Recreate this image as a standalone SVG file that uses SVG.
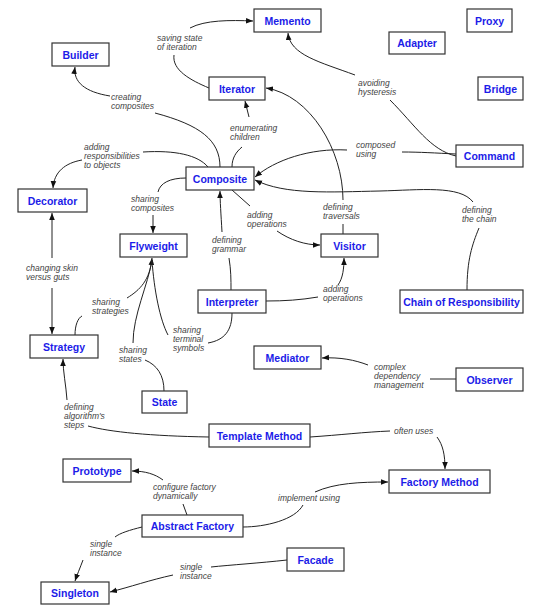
<svg xmlns="http://www.w3.org/2000/svg" width="550" height="608" viewBox="0 0 550 608">
<style>
.n rect{fill:#fff;stroke:#333;stroke-width:1.2}
.n text{font-family:"Liberation Sans",Arial,sans-serif;font-weight:bold;font-size:10.5px;fill:#1c1ce8;text-anchor:middle}
.c path{fill:none;stroke:#222;stroke-width:1}
.l{font-family:"Liberation Sans",Arial,sans-serif;font-style:italic;font-size:8.5px;fill:#444}
</style>
<defs>
<marker id="a" viewBox="0 0 10 10" refX="10" refY="5" markerWidth="7" markerHeight="7" orient="auto" markerUnits="userSpaceOnUse"><path d="M0,1 L10,5 L0,9 z" fill="#111"/></marker>
</defs>
<rect width="550" height="608" fill="#fff"/>
<g class="c" id="connectors">
<path d="M209,88 C190,80 172,70 174,55"/>
<path d="M190,28 C205,20 230,20 253,21" marker-end="url(#a)"/>
<path d="M110,96 C85,92 73,82 75,67" marker-end="url(#a)"/>
<path d="M155,113 C200,125 220,140 220,167"/>
<path d="M232,167 C232,158 236,152 242,147"/>
<path d="M249,117 L245,101" marker-end="url(#a)"/>
<path d="M355,75 C320,62 290,55 288,33" marker-end="url(#a)"/>
<path d="M390,100 C415,125 430,150 456,156"/>
<path d="M456,154 C435,153 420,152 402,152"/>
<path d="M347,150 C310,148 275,160 255,177" marker-end="url(#a)"/>
<path d="M467,290 C467,260 472,245 479,228"/>
<path d="M473,202 C460,185 420,190 380,191 C330,192 285,195 255,180" marker-end="url(#a)"/>
<path d="M343,234 L343,224"/>
<path d="M343,200 C343,150 310,95 266,88" marker-end="url(#a)"/>
<path d="M143,152 C175,150 198,155 208,167"/>
<path d="M82,160 C65,163 54,172 53,188" marker-end="url(#a)"/>
<path d="M186,178 C170,178 160,183 158,192"/>
<path d="M153,215 L153,233" marker-end="url(#a)"/>
<path d="M52,258 L52,213" marker-end="url(#a)"/>
<path d="M52,288 L52,334" marker-end="url(#a)"/>
<path d="M222,232 C221,215 220,200 220,191" marker-end="url(#a)"/>
<path d="M229,258 C231,270 231,280 231,290"/>
<path d="M232,190 L250,206"/>
<path d="M277,231 C290,240 305,245 320,245" marker-end="url(#a)"/>
<path d="M266,301 C285,301 300,300 318,297"/>
<path d="M338,285 C343,278 344,268 344,258" marker-end="url(#a)"/>
<path d="M127,298 C140,290 150,280 152,258" marker-end="url(#a)"/>
<path d="M133,343 C133,315 148,285 152,260"/>
<path d="M168,335 C160,320 154,290 152,260"/>
<path d="M75,335 C75,325 78,318 82,316"/>
<path d="M145,360 C157,365 164,375 164,391"/>
<path d="M208,343 C225,340 232,330 232,313"/>
<path d="M368,365 C355,360 340,357 322,358" marker-end="url(#a)"/>
<path d="M430,379 L456,379"/>
<path d="M67,400 C66,385 63,372 63,359" marker-end="url(#a)"/>
<path d="M88,426 C110,432 150,436 209,437"/>
<path d="M310,437 C340,435 365,432 390,431"/>
<path d="M437,437 C443,445 445,455 445,469" marker-end="url(#a)"/>
<path d="M163,480 C155,474 145,471 132,471" marker-end="url(#a)"/>
<path d="M183,504 L187,515"/>
<path d="M243,527 C265,527 295,520 303,505"/>
<path d="M315,492 C335,483 360,482 388,482" marker-end="url(#a)"/>
<path d="M142,527 C130,530 120,533 115,537"/>
<path d="M83,560 C80,568 77,575 75,581" marker-end="url(#a)"/>
<path d="M287,560 C260,563 230,565 211,567"/>
<path d="M173,575 C150,580 130,587 110,592" marker-end="url(#a)"/>
</g>
<g id="labels" class="l">
<text x="157" y="41">saving state<tspan x="157" y="50">of iteration</tspan></text>
<text x="111" y="100">creating<tspan x="111" y="109">composites</tspan></text>
<text x="230" y="131">enumerating<tspan x="230" y="140">children</tspan></text>
<text x="358" y="86">avoiding<tspan x="358" y="95">hysteresis</tspan></text>
<text x="356" y="148">composed<tspan x="356" y="157">using</tspan></text>
<text x="84" y="150">adding<tspan x="84" y="159">responsibilities</tspan><tspan x="84" y="168">to objects</tspan></text>
<text x="131" y="202">sharing<tspan x="131" y="211">composites</tspan></text>
<text x="323" y="210">defining<tspan x="323" y="219">traversals</tspan></text>
<text x="247" y="218">adding<tspan x="247" y="227">operations</tspan></text>
<text x="462" y="213">defining<tspan x="462" y="222">the chain</tspan></text>
<text x="212" y="243">defining<tspan x="212" y="252">grammar</tspan></text>
<text x="26" y="271">changing skin<tspan x="26" y="280">versus guts</tspan></text>
<text x="323" y="292">adding<tspan x="323" y="301">operations</tspan></text>
<text x="92" y="305">sharing<tspan x="92" y="314">strategies</tspan></text>
<text x="173" y="333">sharing<tspan x="173" y="342">terminal</tspan><tspan x="173" y="351">symbols</tspan></text>
<text x="119" y="353">sharing<tspan x="119" y="362">states</tspan></text>
<text x="374" y="370">complex<tspan x="374" y="379">dependency</tspan><tspan x="374" y="388">management</tspan></text>
<text x="64" y="410">defining<tspan x="64" y="419">algorithm's</tspan><tspan x="64" y="428">steps</tspan></text>
<text x="394" y="434">often uses</text>
<text x="153" y="490">configure factory<tspan x="153" y="499">dynamically</tspan></text>
<text x="278" y="501">implement using</text>
<text x="90" y="547">single<tspan x="90" y="556">instance</tspan></text>
<text x="180" y="570">single<tspan x="180" y="579">instance</tspan></text>
</g>
<g class="n" id="memento"><rect x="254" y="9" width="67" height="23"/><text x="287.5" y="24.5">Memento</text></g>
<g class="n" id="proxy"><rect x="467" y="9" width="45" height="23"/><text x="489.5" y="24.5">Proxy</text></g>
<g class="n" id="adapter"><rect x="389" y="32" width="56" height="22"/><text x="417" y="47">Adapter</text></g>
<g class="n" id="builder"><rect x="52" y="43" width="57" height="23"/><text x="80.5" y="58.5">Builder</text></g>
<g class="n" id="iterator"><rect x="209" y="77" width="56" height="23"/><text x="237" y="92.5">Iterator</text></g>
<g class="n" id="bridge"><rect x="478" y="77" width="45" height="23"/><text x="500.5" y="92.5">Bridge</text></g>
<g class="n" id="command"><rect x="456" y="145" width="67" height="22"/><text x="489.5" y="160">Command</text></g>
<g class="n" id="composite"><rect x="186" y="167" width="68" height="23"/><text x="220" y="182.5">Composite</text></g>
<g class="n" id="decorator"><rect x="18" y="189" width="69" height="23"/><text x="52.5" y="204.5">Decorator</text></g>
<g class="n" id="flyweight"><rect x="120" y="234" width="67" height="23"/><text x="153.5" y="249.5">Flyweight</text></g>
<g class="n" id="visitor"><rect x="321" y="234" width="57" height="23"/><text x="349.5" y="249.5">Visitor</text></g>
<g class="n" id="interpreter"><rect x="198" y="290" width="68" height="23"/><text x="232" y="305.5">Interpreter</text></g>
<g class="n" id="chain"><rect x="400" y="290" width="123" height="23"/><text x="461.5" y="305.5">Chain of Responsibility</text></g>
<g class="n" id="strategy"><rect x="30" y="335" width="68" height="23"/><text x="64" y="350.5">Strategy</text></g>
<g class="n" id="mediator"><rect x="254" y="346" width="67" height="23"/><text x="287.5" y="361.5">Mediator</text></g>
<g class="n" id="observer"><rect x="456" y="368" width="67" height="23"/><text x="489.5" y="383.5">Observer</text></g>
<g class="n" id="state"><rect x="142" y="391" width="45" height="22"/><text x="164.5" y="406">State</text></g>
<g class="n" id="templatemethod"><rect x="209" y="424" width="101" height="23"/><text x="259.5" y="439.5">Template Method</text></g>
<g class="n" id="prototype"><rect x="63" y="459" width="68" height="23"/><text x="97" y="474.5">Prototype</text></g>
<g class="n" id="factorymethod"><rect x="389" y="470" width="101" height="23"/><text x="439.5" y="485.5">Factory Method</text></g>
<g class="n" id="abstractfactory"><rect x="142" y="515" width="101" height="22"/><text x="192.5" y="530">Abstract Factory</text></g>
<g class="n" id="facade"><rect x="287" y="548" width="57" height="23"/><text x="315.5" y="563.5">Facade</text></g>
<g class="n" id="singleton"><rect x="41" y="582" width="68" height="22"/><text x="75" y="597">Singleton</text></g>
</svg>
